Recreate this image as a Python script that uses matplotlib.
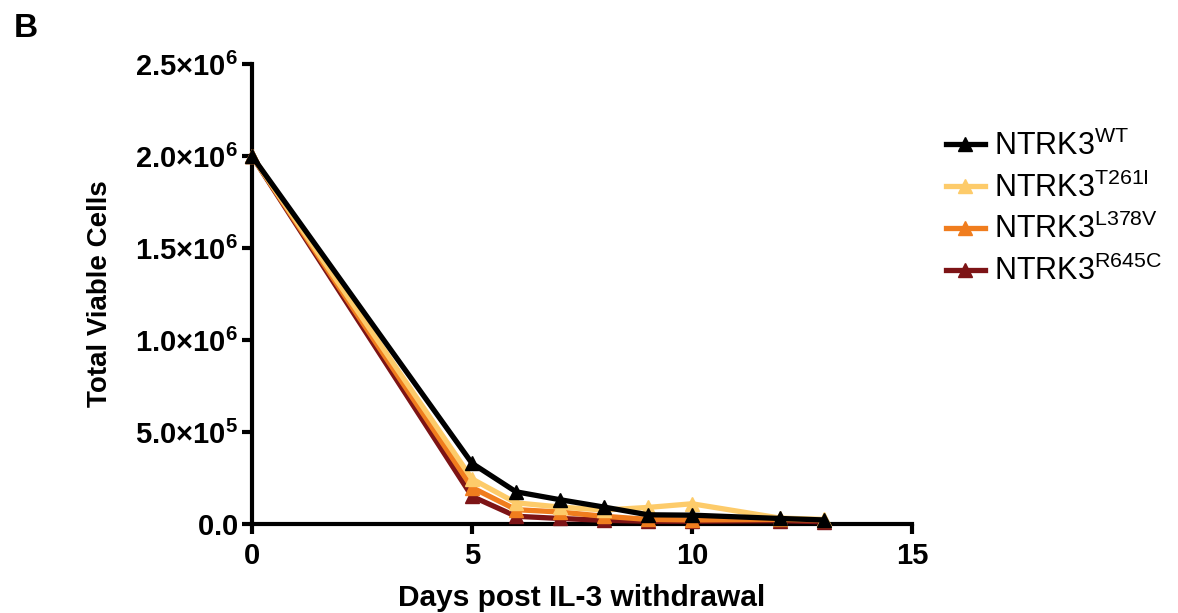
import matplotlib
matplotlib.use("Agg")
import matplotlib.pyplot as plt

plt.rcParams['font.family'] = ['Liberation Sans', 'DejaVu Sans']
plt.rcParams['mathtext.fontset'] = 'custom'
plt.rcParams['mathtext.rm'] = 'Liberation Sans'
plt.rcParams['mathtext.bf'] = 'Liberation Sans:bold'
plt.rcParams['mathtext.it'] = 'Liberation Sans:italic'

# данные (дни и число живых клеток)
days = [0, 5, 6, 7, 8, 9, 10, 12, 13]
wt = [2.0e6, 3.3e5, 1.75e5, 1.32e5, 0.92e5, 0.5e5, 0.48e5, 0.3e5, 0.22e5]
t261i = [2.0e6, 2.45e5, 1.15e5, 0.92e5, 0.76e5, 0.9e5, 1.1e5, 0.32e5, 0.25e5]
l378v = [2.0e6, 1.98e5, 0.78e5, 0.65e5, 0.42e5, 0.25e5, 0.22e5, 0.25e5, 0.22e5]
r645c = [2.0e6, 1.5e5, 0.42e5, 0.3e5, 0.2e5, 0.15e5, 0.15e5, 0.18e5, 0.12e5]

names = ['WT', 'T261I', 'L378V', 'R645C']
colors = ['#000000', '#FDCB6A', '#F07D1E', '#7D1416']
series = [wt, t261i, l378v, r645c]

yticks = [0, 5e5, 1e6, 1.5e6, 2e6, 2.5e6]
ytick_labels = [r'$\mathbf{0.0}$', r'$\mathbf{5.0{\times}10^{5}}$', r'$\mathbf{1.0{\times}10^{6}}$',
                r'$\mathbf{1.5{\times}10^{6}}$', r'$\mathbf{2.0{\times}10^{6}}$', r'$\mathbf{2.5{\times}10^{6}}$']
xticks = [0, 5, 10, 15]

fig = plt.figure(figsize=(11.78, 6.13), dpi=100)
ax = fig.add_axes([0.2139, 0.1452, 0.5603, 0.7504])

for i in [3, 2, 1, 0]:
    ax.plot(days, series[i], color=colors[i], lw=3.8, marker='^', ms=10,
            clip_on=False, zorder=3 + (3 - i),
            label='NTRK3$^{\\mathrm{' + names[i] + '}}$')

ax.set_xlim(0, 15)
ax.set_ylim(0, 2.5e6)
ax.set_xticks(xticks)
ax.set_xticklabels([str(x) for x in xticks])
ax.set_yticks(yticks)
ax.set_yticklabels(ytick_labels)
for s in ['top', 'right']:
    ax.spines[s].set_visible(False)
for s in ['left', 'bottom']:
    ax.spines[s].set_linewidth(3)
ax.tick_params(width=3, length=7, labelsize=21, pad=3)
ax.tick_params(axis='x', pad=6)
for lab in ax.get_xticklabels():
    lab.set_fontweight('bold')

ax.set_xlabel('Days post IL-3 withdrawal', fontsize=21.5, fontweight='bold', labelpad=10)
ax.set_ylabel('Total Viable Cells', fontsize=20, fontweight='bold', labelpad=16)

h, l = ax.get_legend_handles_labels()
fig.legend(h[::-1], l[::-1], loc='upper left', bbox_to_anchor=(0.78, 0.832),
           frameon=False, fontsize=22, handlelength=1.25, labelspacing=0.345,
           handletextpad=0.3)

fig.text(0.012, 0.94, 'B', fontsize=24, fontweight='bold')

fig.savefig('out.png', dpi=100)
